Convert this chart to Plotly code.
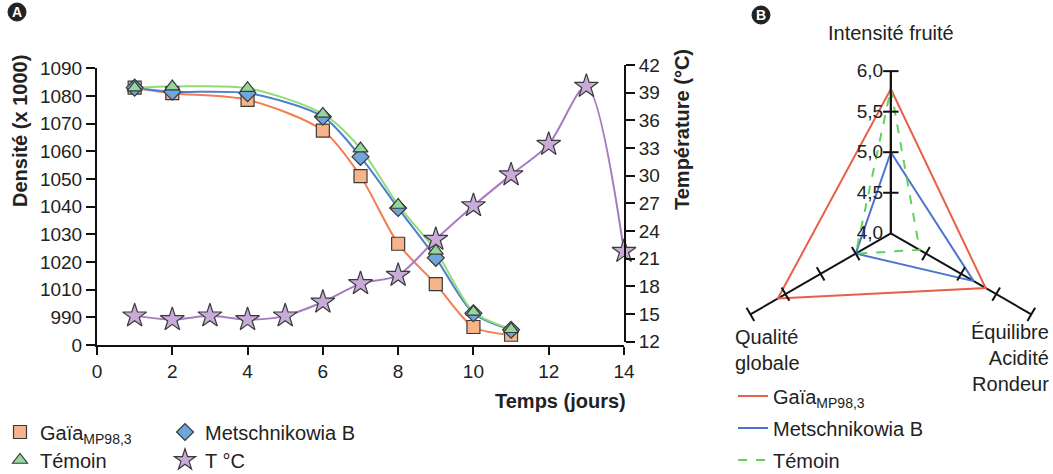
import plotly.graph_objects as go

# --- panel A : densité et température ---
jours_dens = [1, 2, 4, 6, 7, 8, 9, 10, 11]
# valeurs en unités de l'axe gauche (graduation régulière, "0" en bas)
dens_gaia = [1083, 1081, 1078.6, 1067.5, 1051, 1026.6, 1012, 996.5, 993.7]
dens_metsch = [1083, 1081.5, 1081, 1072.5, 1058, 1039.5, 1021.5, 1001.5, 995.5]
dens_temoin = [1083, 1083.4, 1082.8, 1073.5, 1061, 1040.6, 1024, 1002, 995.7]

jours_temp = [1, 2, 3, 4, 5, 6, 7, 8, 9, 10, 11, 12, 13, 14]
temperature = [14.8, 14.4, 14.8, 14.4, 14.8, 16.3, 18.3, 19.2, 23.1, 26.75, 30.1, 33.4, 39.7, 21.8]

dens_tickvals = [990, 1000, 1010, 1020, 1030, 1040, 1050, 1060, 1070, 1080, 1090]
dens_ticktext = ["0", "990", "1010", "1020", "1030", "1040", "1050", "1060", "1070", "1080", "1090"]
temp_ticks = [12, 15, 18, 21, 24, 27, 30, 33, 36, 39, 42]

# --- panel B : profil sensoriel ---
criteres = ["Intensité fruité", "Équilibre Acidité Rondeur", "Qualité globale"]
note_gaia = [5.78, 5.35, 5.61]
note_metsch = [5.0, 5.18, 4.5]
note_temoin = [5.78, 4.41, 4.5]
radial_ticks = [4.5, 5.0, 5.5, 6.0]

FONT = "Liberation Sans"
gaia_name = "Gaïa<sub>MP98,3</sub>"
W, H = 1053, 474


def px(x):
    return x / W


def py(y):
    return (H - y) / H


fig = go.Figure()

line_shape = dict(shape="spline", smoothing=0.8)
series_a = [
    (gaia_name, jours_dens, dens_gaia, "y", "#f27d4e", "square", 13, "#f7b48a", "legend"),
    ("Metschnikowia B", jours_dens, dens_metsch, "y", "#4d7fcf", "diamond", 13, "#6fa6dc", "legend2"),
    ("Témoin", jours_dens, dens_temoin, "y", "#8fdc7a", "triangle-up", 13, "#93d89a", "legend3"),
    ("T °C", jours_temp, temperature, "y2", "#a57ac0", "star", 18, "#c9abd9", "legend4"),
]
# lignes lissées d'abord, sans légende
for nom, xs, ys, yax, lc, sym, sz, fc, leg in series_a:
    fig.add_trace(go.Scatter(x=xs, y=ys, yaxis=yax, mode="lines", showlegend=False,
                             line=dict(color=lc, width=2, **line_shape), hoverinfo="skip"))
# puis les marqueurs (avec légende)
for nom, xs, ys, yax, lc, sym, sz, fc, leg in series_a:
    fig.add_trace(go.Scatter(x=xs, y=ys, yaxis=yax, name=nom, mode="markers", legend=leg,
                             cliponaxis=False,
                             marker=dict(symbol=sym, size=sz, color=fc,
                                         line=dict(color="#3a3a3a", width=1.2))))

# radar
for nom, vals, col, dash, lg in [(gaia_name, note_gaia, "#e8604a", "solid", "legend5"),
                                 ("Metschnikowia B", note_metsch, "#4a74d0", "solid", "legend6"),
                                 ("Témoin", note_temoin, "#5fd35a", "dash", "legend7")]:
    fig.add_trace(go.Scatterpolar(r=vals + vals[:1], theta=criteres + criteres[:1], name=nom,
                                  mode="lines", line=dict(color=col, width=2, dash=dash),
                                  legend=lg, hoverinfo="skip"))

# petites graduations sur les trois branches
tick_r, tick_theta, tick_angle = [], [], []
for crit, ang in zip(criteres, [90, 30, -30]):
    for rv in radial_ticks:
        tick_r.append(rv)
        tick_theta.append(crit)
        tick_angle.append(ang)
fig.add_trace(go.Scatterpolar(r=tick_r, theta=tick_theta, mode="markers", showlegend=False,
                              hoverinfo="skip",
                              marker=dict(symbol="line-ns", size=11, angle=tick_angle,
                                          line=dict(color="#111", width=2))))

axis_font = dict(family=FONT, size=19, color="#222")
common_axis = dict(showgrid=False, zeroline=False, showline=True, linecolor="#111", linewidth=2,
                   ticks="outside", tickwidth=2, tickcolor="#111", tickfont=axis_font,
                   automargin=False)


def leg(x, y):
    return dict(orientation="v", x=px(x), y=py(y), xanchor="left", yanchor="middle",
                font=dict(family=FONT, size=20), bgcolor="rgba(0,0,0,0)")


fig.update_layout(
    width=W, height=H,
    margin=dict(l=0, r=0, t=0, b=0, autoexpand=False),
    paper_bgcolor="white", plot_bgcolor="rgba(0,0,0,0)",
    separators=", ",
    font=dict(family=FONT, size=20, color="#222"),
    xaxis=dict(domain=[px(97), px(624)], range=[0, 14], tickvals=list(range(0, 15, 2)),
               ticklen=8, anchor="y", **common_axis),
    yaxis=dict(domain=[py(345), py(68.3)], range=[990, 1090], tickvals=dens_tickvals,
               ticktext=dens_ticktext, ticklen=9, anchor="x", **common_axis),
    yaxis2=dict(domain=[py(341.7), py(65)], range=[12, 42], tickvals=temp_ticks,
                side="right", anchor="x", ticklen=9, **common_axis),
    polar=dict(domain=dict(x=[0.692, 1.0], y=[py(398.3), py(68.3)]), bgcolor="white",
               radialaxis=dict(range=[4, 6], tickvals=[4, 4.5, 5, 5.5, 6], tickformat=".1f",
                               angle=90, tickangle=90, side="counterclockwise",
                               showgrid=False, showline=True, linecolor="#111",
                               linewidth=2, ticks="", tickfont=axis_font),
               angularaxis=dict(type="category", categoryarray=criteres, rotation=90,
                                direction="clockwise", showgrid=True, gridcolor="#111",
                                gridwidth=2, showline=False, showticklabels=False, ticks="")),
    legend=leg(0, 432),
    legend2=leg(165, 432),
    legend3=leg(0, 460),
    legend4=leg(165, 460),
    legend5=leg(733, 396),
    legend6=leg(733, 428),
    legend7=leg(733, 460),
)

for cx, cy in [(17, 12), (761, 15)]:
    fig.add_shape(type="circle", xref="paper", yref="paper",
                  x0=px(cx - 9), x1=px(cx + 9), y0=py(cy + 9), y1=py(cy - 9),
                  fillcolor="#222", line=dict(color="#222", width=1), layer="below")

bold = dict(family=FONT, size=20, color="#222")
annotations = [
    dict(text="<b>Densité (x 1000)</b>", x=px(20), y=py(131), textangle=-90, font=bold),
    dict(text="<b>Température (°C)</b>", x=px(682), y=py(130), textangle=-90, font=bold),
    dict(text="<b>Temps (jours)</b>", x=px(628), y=py(401), xanchor="right", font=bold),
    dict(text="Intensité fruité", x=px(891), y=py(33), font=dict(family=FONT, size=20)),
    dict(text="Qualité<br>globale", x=px(733), y=py(350), xanchor="left", align="left",
         font=dict(family=FONT, size=20)),
    dict(text="Équilibre<br>Acidité<br>Rondeur", x=px(1051), y=py(358), xanchor="right",
         align="right", font=dict(family=FONT, size=20)),
    dict(text="<b>A</b>", x=px(17), y=py(12), font=dict(family=FONT, size=14, color="white")),
    dict(text="<b>B</b>", x=px(761), y=py(15), font=dict(family=FONT, size=14, color="white")),
]
for a in annotations:
    a.setdefault("xanchor", "center")
    fig.add_annotation(xref="paper", yref="paper", showarrow=False, yanchor="middle", **a)

fig.write_html("out.html", config={"displayModeBar": False},
               post_script="document.body.style.margin='0';")
